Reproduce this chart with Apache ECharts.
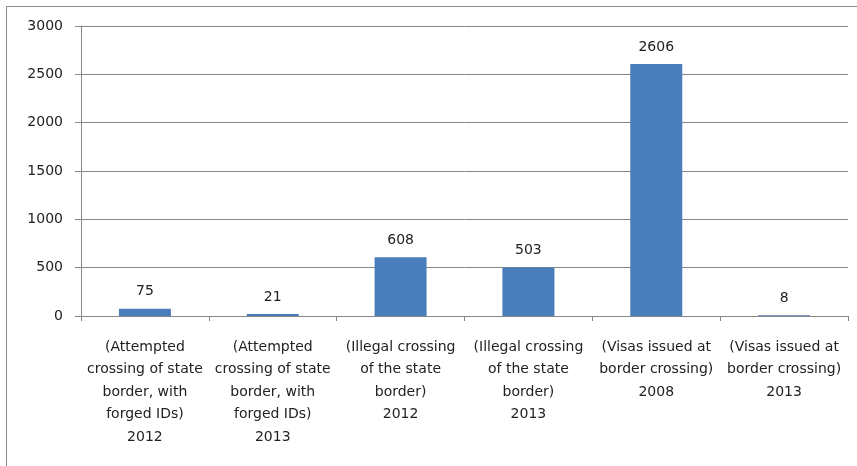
<!DOCTYPE html>
<html>
<head>
<meta charset="utf-8">
<script src="https://cdn.jsdelivr.net/npm/echarts@6/dist/echarts.min.js"></script>
<style>
html,body{margin:0;padding:0;background:#fff;}
#chart{width:857px;height:466px;}
</style>
</head>
<body>
<div id="chart"></div>
<script>
const categories = [
  "(Attempted\ncrossing of state\nborder, with\nforged IDs)\n2012",
  "(Attempted\ncrossing of state\nborder, with\nforged IDs)\n2013",
  "(Illegal crossing\nof the state\nborder)\n2012",
  "(Illegal crossing\nof the state\nborder)\n2013",
  "(Visas issued at\nborder crossing)\n2008",
  "(Visas issued at\nborder crossing)\n2013"
];
const values = [75, 21, 608, 503, 2606, 8];
const yTicks = { min: 0, max: 3000, interval: 500 };

const chart = echarts.init(document.getElementById('chart'));
const font = 'DejaVu Sans';
chart.setOption({
  animation: false,
  backgroundColor: '#fff',
  graphic: [{
    type: 'rect',
    shape: { x: 6.5, y: 6.5, width: 1000, height: 1000 },
    style: { fill: 'none', stroke: '#8c8c8c', lineWidth: 1 },
    silent: true
  }],
  grid: { left: 81, right: 9, top: 26, bottom: 150, containLabel: false },
  xAxis: {
    type: 'category',
    data: categories,
    axisLine: { show: true, lineStyle: { color: '#868686', width: 1 } },
    axisTick: { show: true, length: 5, alignWithLabel: false, lineStyle: { color: '#868686' } },
    axisLabel: {
      interval: 0, margin: 20, color: '#222', fontFamily: font, fontSize: 14, lineHeight: 22.5, align: 'center'
    }
  },
  yAxis: {
    type: 'value',
    min: yTicks.min, max: yTicks.max, interval: yTicks.interval,
    axisLine: { show: true, lineStyle: { color: '#868686', width: 1 } },
    axisTick: { show: true, length: 6, lineStyle: { color: '#868686' } },
    splitLine: { show: true, lineStyle: { color: '#868686', width: 1 } },
    axisLabel: { margin: 18, color: '#222', fontFamily: font, fontSize: 14, formatter: function (v) { return String(v); } }
  },
  series: [{
    type: 'bar',
    data: values,
    barWidth: 52,
    itemStyle: { color: '#4a7ebb' },
    label: { show: true, position: 'top', distance: 10, color: '#222', fontFamily: font, fontSize: 14 }
  }]
});
</script>
</body>
</html>
